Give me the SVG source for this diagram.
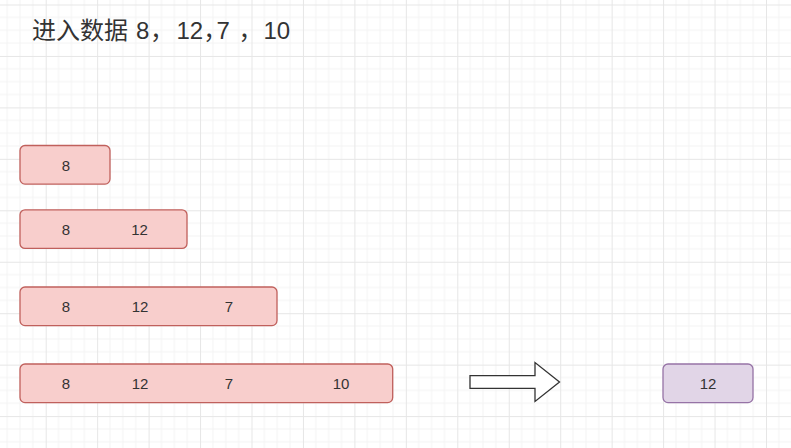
<svg xmlns="http://www.w3.org/2000/svg" width="791" height="448" viewBox="0 0 791 448">
<defs>
<pattern id="grid" patternUnits="userSpaceOnUse" x="45.7" y="4.5" width="51.45" height="51.45">
<path d="M12.86 0V51.45M25.72 0V51.45M38.59 0V51.45M0 12.86H51.45M0 25.72H51.45M0 38.59H51.45" stroke="#f3f3f3" stroke-width="1" fill="none"/>
<path d="M0.5 0V51.45M0 0.5H51.45" stroke="#e6e6e6" stroke-width="1" fill="none"/>
</pattern>
<style>
.red{fill:#f8cecc;stroke:#c0605c;stroke-width:1.3}
.pur{fill:#e1d5e7;stroke:#9673a6;stroke-width:1.3}
.t{font-family:"Liberation Sans",Arial,sans-serif;font-size:15px;fill:#333;text-anchor:middle}
.title{font-family:"Liberation Sans","Noto Sans CJK SC",sans-serif;font-size:24px;fill:#333}
.c{letter-spacing:-12px}
</style>
</defs>
<rect width="791" height="448" fill="#ffffff"/>
<rect width="791" height="448" fill="url(#grid)"/>
<text class="title" x="32" y="38.5">进入数据<tspan x="136">8</tspan><tspan class="c" x="150">，</tspan><tspan x="176.5">12</tspan><tspan class="c" x="203.3">，</tspan><tspan x="216.5">7</tspan><tspan class="c" x="238.5">，</tspan><tspan x="263.5">10</tspan></text>
<g id="node1">
<rect class="red" x="20" y="145.5" width="90" height="38.6" rx="5"/>
<text class="t" x="66" y="170.5">8</text>
</g>
<g id="node2">
<rect class="red" x="20" y="209.8" width="167" height="38.6" rx="5"/>
<text class="t" x="66" y="234.6">8</text>
<text class="t" x="139.5" y="234.6">12</text>
</g>
<g id="node3">
<rect class="red" x="20" y="287" width="257" height="38.6" rx="5"/>
<text class="t" x="66" y="311.8">8</text>
<text class="t" x="140" y="311.8">12</text>
<text class="t" x="229" y="311.8">7</text>
</g>
<g id="node4">
<rect class="red" x="20" y="364" width="372.7" height="38.6" rx="5"/>
<text class="t" x="66" y="388.8">8</text>
<text class="t" x="140" y="388.8">12</text>
<text class="t" x="229" y="388.8">7</text>
<text class="t" x="341" y="388.8">10</text>
</g>
<g id="arrow">
<polygon points="470,375.7 535,375.7 535,362.5 559.5,382 535,401.5 535,388.3 470,388.3" fill="#ffffff" stroke="#333333" stroke-width="1.3" stroke-linejoin="miter"/>
</g>
<g id="node5">
<rect class="pur" x="663" y="364" width="90" height="38.6" rx="5"/>
<text class="t" x="708" y="388.8">12</text>
</g>
<g id="connectors"></g>
</svg>
